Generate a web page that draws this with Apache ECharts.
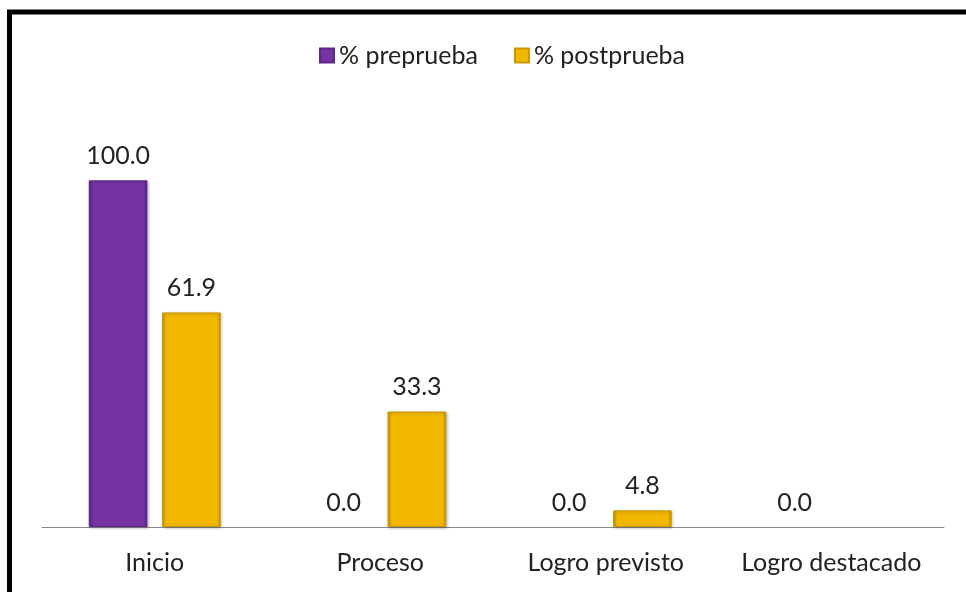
<!DOCTYPE html>
<html><head><meta charset="utf-8">
<script src="https://cdn.jsdelivr.net/npm/echarts@6/dist/echarts.min.js"></script>
<style>html,body{margin:0;padding:0;background:#fff;}#c{width:966px;height:592px;}</style>
</head><body><div id="c"></div>
<script>
const categories = ['Inicio', 'Proceso', 'Logro previsto', 'Logro destacado'];
const seriesNames = ['% preprueba', '% postprueba'];
const pre = [100.0, 0.0, 0.0, 0.0];
const post = [61.9, 33.3, 4.8, null];

const FONT = 'Lato';
function grad(mid, dark) {
  return new echarts.graphic.LinearGradient(0, 0, 1, 0, [
    {offset: 0, color: dark}, {offset: 0.07, color: mid},
    {offset: 0.93, color: mid}, {offset: 1, color: dark}
  ]);
}
function items(arr) {
  return arr.map(v => v === 0 ? {value: 0, itemStyle: {borderWidth: 0, shadowBlur: 0, shadowOffsetX: 0, shadowOffsetY: 0, opacity: 0}} : v);
}
const labelCfg = {show: true, position: 'top', distance: 12,
  formatter: p => p.value.toFixed(1), fontFamily: FONT, fontSize: 25, color: '#222', opacity: 1};
const chart = echarts.init(document.getElementById('c'));
chart.setOption({
  animation: false,
  backgroundColor: '#fff',
  textStyle: {fontFamily: FONT},
  graphic: [{
    type: 'rect', shape: {x: 9.5, y: 12, width: 3000, height: 3000},
    style: {fill: 'none', stroke: '#000', lineWidth: 5}, silent: true
  }],
  legend: {
    top: 38, left: 314, itemWidth: 14, itemHeight: 14, itemGap: 36, icon: 'rect',
    textStyle: {fontFamily: FONT, fontSize: 25, color: '#222'},
    data: seriesNames
  },
  grid: {left: 42, right: 22, top: 111, bottom: 65, containLabel: false},
  xAxis: {
    type: 'category', data: categories,
    axisLine: {lineStyle: {color: '#888', width: 1}},
    axisTick: {show: false},
    axisLabel: {interval: 0, fontFamily: FONT, fontSize: 25, color: '#222', margin: 23}
  },
  yAxis: {type: 'value', min: 0, max: 120, show: false, splitLine: {show: false}},
  series: [
    {
      name: seriesNames[0], type: 'bar', data: items(pre), barWidth: '26%', barGap: '25%',
      itemStyle: {color: grad('#7633a3', '#5a2285'), borderColor: '#5e2488', borderWidth: 1,
        shadowColor: 'rgba(0,0,0,0.25)', shadowBlur: 3, shadowOffsetX: 1, shadowOffsetY: 1},
      label: labelCfg
    },
    {
      name: seriesNames[1], type: 'bar', data: items(post), barWidth: '26%',
      itemStyle: {color: grad('#f2b800', '#c99700'), borderColor: '#c89600', borderWidth: 1,
        shadowColor: 'rgba(0,0,0,0.25)', shadowBlur: 3, shadowOffsetX: 1, shadowOffsetY: 1},
      label: labelCfg
    }
  ]
});
</script></body></html>
